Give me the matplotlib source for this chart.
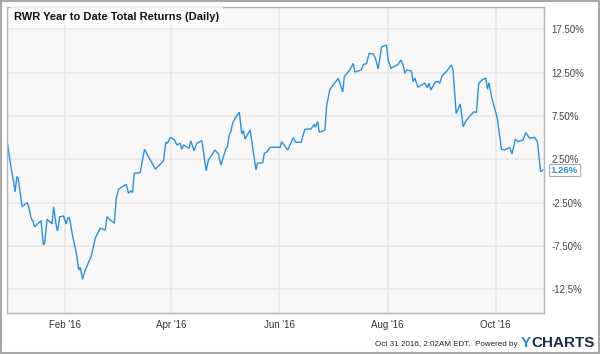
import matplotlib
matplotlib.use('Agg')
import matplotlib.pyplot as plt

plt.rcParams['font.family'] = ['Liberation Sans', 'DejaVu Sans']

# day of year 2016 (Jan 1 = 0) and YTD total return in %
days = [-1.2, 0.3, 3.0, 3.9, 4.7, 6.9, 9.7, 10.6, 12.0, 12.9, 14.0, 17.6, 18.9, 19.6,
        21.0, 23.8, 24.7, 26.2, 26.9, 28.1, 30.3, 31.7, 32.8, 33.7, 35.1, 37.5, 38.8,
        39.7, 41.0, 42.5, 45.8, 48.2, 51.0, 53.8, 54.8, 56.6, 58.9, 60.0, 61.3, 65.6,
        66.9, 68.3, 69.2, 70.1, 73.5, 75.9, 77.3, 80.1, 82.0, 86.6, 88.0, 88.9, 90.4,
        92.7, 94.2, 96.0, 97.0, 97.9, 101.1, 102.1, 103.9, 105.4, 108.3, 110.7, 112.0,
        115.7, 117.6, 119.0, 121.9, 122.7, 123.8, 124.6, 125.7, 127.6, 129.4, 130.8,
        131.7, 132.6, 135.5, 138.8, 139.6, 142.6, 143.5, 145.2, 146.7, 152.4, 153.3,
        156.7, 159.8, 161.2, 164.2, 166.4, 169.8, 171.7, 172.2, 173.6, 174.5, 177.7,
        178.6, 180.5, 185.2, 187.7, 188.6, 192.1, 193.6, 194.6, 198.1, 199.3, 201.2,
        202.6, 204.9, 206.1, 207.7, 209.6, 212.4, 213.3, 214.9, 219.0, 220.5, 221.8,
        222.7, 223.7, 226.5, 227.4, 228.4, 230.2, 232.1, 234.0, 235.5, 236.3, 237.4,
        240.0, 241.5, 242.4, 243.7, 246.6, 249.0, 249.9, 251.7, 254.0, 255.6, 257.5,
        259.9, 261.8, 263.1, 264.4, 266.8, 268.4, 269.3, 270.2, 271.6, 274.9, 277.2,
        279.0, 281.9, 283.2, 285.1, 286.5, 289.4, 290.9, 293.1, 295.9, 297.5, 299.3,
        300.6]
returns = [4.15, 2.04, -1.24, 0.49, 0.31, -2.97, -2.51, -2.97, -4.31, -4.58, -5.28,
           -4.58, -7.39, -7.19, -4.42, -4.96, -2.97, -5.28, -5.77, -4.12, -4.04, -4.96,
           -4.19, -4.31, -6.04, -8.35, -10.27, -9.96, -11.35, -10.27, -8.74, -6.58,
           -5.46, -5.66, -4.12, -4.50, -4.88, -2.00, -0.96, -0.38, -1.42, -1.12, -1.35,
           0.88, 0.95, 3.65, 3.11, 2.11, 1.35, 2.30, 4.46, 4.35, 4.99, 4.81, 4.15, 4.35,
           3.65, 4.15, 3.77, 4.61, 3.46, 4.35, 4.65, 1.18, 2.42, 3.57, 3.11, 1.84, 3.77,
           3.95, 5.38, 5.68, 6.72, 7.41, 7.92, 5.42, 5.80, 4.84, 5.88, 1.26, 2.04, 2.11,
           3.19, 3.38, 3.88, 3.88, 4.53, 3.57, 4.99, 4.46, 4.46, 5.96, 6.00, 6.54, 6.19,
           6.84, 5.62, 5.88, 8.65, 10.55, 11.85, 10.27, 12.03, 12.92, 13.58, 12.57,
           12.80, 13.38, 13.58, 14.73, 14.65, 14.19, 12.92, 15.46, 15.69, 13.96, 13.00,
           13.46, 13.96, 13.38, 12.42, 12.80, 12.69, 11.45, 11.85, 10.81, 11.07, 11.27,
           10.76, 11.27, 10.50, 11.45, 11.45, 11.27, 12.11, 12.72, 13.38, 12.80, 7.78,
           8.88, 6.26, 7.03, 7.61, 7.99, 7.88, 11.27, 11.73, 11.85, 10.58, 11.34, 9.72,
           7.23, 3.65, 3.57, 3.88, 3.11, 4.84, 4.53, 4.73, 5.57, 4.92, 5.04, 4.53, 1.09,
           1.26]

month_days = [31, 91, 152, 213, 274]
month_labels = ["Feb '16", "Apr '16", "Jun '16", "Aug '16", "Oct '16"]
y_ticks = [17.5, 12.5, 7.5, 2.5, -2.5, -7.5, -12.5]
y_labels = ['17.50%', '12.50%', '7.50%', '2.50%', '-2.50%', '-7.50%', '-12.5%']

line_color = '#2b90e3'

fig = plt.figure(figsize=(6, 3.54), dpi=100)
ax = fig.add_axes([0.0117, 0.1167, 0.8955, 0.8635])
ax.set_facecolor('#f8f8f8')

ax.plot(days, returns, color=line_color, lw=1.0, solid_joinstyle='miter')

ax.set_xlim(-1.6, 301.4)
ax.set_ylim(-15.2, 20.07)

ax.set_xticks(month_days)
ax.set_xticklabels(month_labels, fontsize=7, color='#333333')
ax.set_yticks(y_ticks)
ax.set_yticklabels(y_labels, fontsize=7, color='#444444')
ax.yaxis.tick_right()
ax.tick_params(length=0, pad=5)
ax.grid(True, color='#e6e6e6', lw=1.1)
ax.set_axisbelow(True)
for s in ax.spines.values():
    s.set_color('#b5b5b5')
    s.set_linewidth(1.0)

# title box
ax.text(0.0125, 0.985, 'RWR Year to Date Total Returns (Daily)', transform=ax.transAxes,
        fontsize=8, fontweight='bold', color='#111111', va='top', ha='left',
        bbox=dict(facecolor='white', edgecolor='none', alpha=0.7, pad=3))

# last value label
ax.text(1.012, returns[-1], '1.26%', transform=ax.get_yaxis_transform(),
        fontsize=6.8, fontweight='bold', color=line_color, va='center', ha='left',
        clip_on=False,
        bbox=dict(boxstyle='square,pad=0.2', facecolor='white', edgecolor='#aaaaaa', lw=0.8))

# footer
fig.text(0.862, 0.028, 'Oct 31 2016, 2:02AM EDT.  Powered by', fontsize=5.8,
         color='#222222', ha='right', va='center')
t = fig.text(0.992, 0.032, 'CHARTS', fontsize=11, fontweight='bold', color='#1d2c4c',
             ha='right', va='center')
fig.canvas.draw()
bb = t.get_window_extent().transformed(fig.transFigure.inverted())
fig.text(bb.x0 - 0.001, 0.032, 'Y', fontsize=11, fontweight='bold', color='#2a8bd8',
         ha='right', va='center')

# outer frame
fig.patches.append(plt.Rectangle((0.0015, 0.0025), 0.997, 0.995, transform=fig.transFigure,
                                 fill=False, edgecolor='#a8a8a8', lw=1.5))

fig.savefig('out.png', dpi=100)
